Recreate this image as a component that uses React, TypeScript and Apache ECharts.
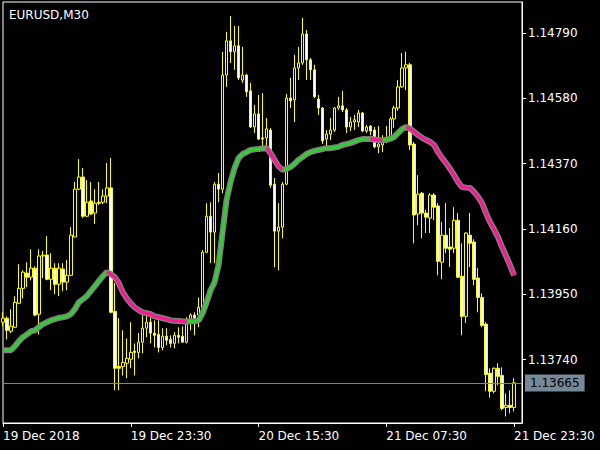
import React, { useEffect, useRef } from "react";
import * as echarts from "echarts";

const SYMBOL = "EURUSD,M30";
const LAST_PRICE = 1.13665;

const opens = [
  1.1386, 1.13873, 1.13831, 1.13844, 1.13921, 1.13969, 1.14018, 1.14005, 1.14034, 1.13886,
  1.14073, 1.14076, 1.13998, 1.14034, 1.13982, 1.14031, 1.13989, 1.14011, 1.14134, 1.14288,
  1.14327, 1.14201, 1.1425, 1.14211, 1.14246, 1.14246, 1.14266, 1.14292, 1.13895, 1.13718,
  1.13718, 1.13728, 1.13741, 1.13767, 1.13763, 1.13796, 1.13841, 1.1386, 1.13825, 1.13821,
  1.13779, 1.13815, 1.13805, 1.13792, 1.13818, 1.13815, 1.13796, 1.1386, 1.13883, 1.13883,
  1.13908, 1.14085, 1.14201, 1.1415, 1.14304, 1.14288, 1.14655, 1.14765, 1.1473, 1.14749,
  1.14639, 1.14655, 1.14604, 1.14488, 1.1453, 1.14453, 1.14453, 1.14478, 1.14304, 1.14153,
  1.14166, 1.14304, 1.14581, 1.14575, 1.14678, 1.14694, 1.14787, 1.14704, 1.14672, 1.14578,
  1.14549, 1.14449, 1.14465, 1.14478, 1.14549, 1.14556, 1.14543, 1.14488, 1.14504, 1.14504,
  1.14533, 1.14475, 1.14491, 1.14478, 1.14424, 1.1443, 1.14446, 1.14456, 1.14514, 1.14549,
  1.14617, 1.14678, 1.14688, 1.14433, 1.14208, 1.14275, 1.14211, 1.14195, 1.14269, 1.14234,
  1.14053, 1.1414, 1.14102, 1.14098, 1.14188, 1.14008, 1.13879, 1.1414, 1.14118, 1.14002,
  1.1394, 1.13854, 1.13696, 1.13638, 1.13712, 1.13689, 1.13586, 1.13593, 1.13586,
];

const closes = [
  1.13873, 1.13834, 1.13847, 1.13924, 1.13969, 1.14021, 1.14005, 1.14034, 1.13883, 1.14073,
  1.14076, 1.13998, 1.14034, 1.13982, 1.14034, 1.13989, 1.14011, 1.1414, 1.14288, 1.14327,
  1.14201, 1.14246, 1.14208, 1.14243, 1.14243, 1.14266, 1.14292, 1.13892, 1.13712, 1.13712,
  1.13731, 1.13744, 1.13763, 1.13763, 1.13796, 1.13841, 1.1386, 1.13825, 1.13818, 1.13779,
  1.13815, 1.13802, 1.13792, 1.13818, 1.13812, 1.13796, 1.13866, 1.13883, 1.13873, 1.13908,
  1.14085, 1.14201, 1.1415, 1.14304, 1.14288, 1.14655, 1.14765, 1.1473, 1.14749, 1.14646,
  1.14655, 1.14601, 1.14488, 1.1453, 1.14449, 1.14449, 1.14482, 1.14301, 1.14153, 1.14166,
  1.14304, 1.14581, 1.14572, 1.14678, 1.14694, 1.14787, 1.14704, 1.14672, 1.14585, 1.14549,
  1.14443, 1.14465, 1.14478, 1.14549, 1.14556, 1.14543, 1.14488, 1.14504, 1.14511, 1.14533,
  1.14475, 1.14488, 1.14475, 1.14424, 1.14433, 1.1444, 1.14453, 1.14514, 1.14549, 1.14617,
  1.14678, 1.14688, 1.1443, 1.14205, 1.14272, 1.14211, 1.14198, 1.14269, 1.1423, 1.14056,
  1.1414, 1.14098, 1.14095, 1.14188, 1.14005, 1.13879, 1.14147, 1.14114, 1.13998, 1.1394,
  1.1385, 1.13692, 1.13638, 1.13712, 1.13686, 1.13583, 1.13593, 1.13586, 1.13665,
];

const highs = [
  1.13892, 1.13879, 1.13902, 1.13944, 1.14047, 1.14027, 1.14053, 1.14095, 1.1404, 1.14095,
  1.14089, 1.14137, 1.14082, 1.1405, 1.1405, 1.1405, 1.1406, 1.14166, 1.14311, 1.14385,
  1.14356, 1.14317, 1.14311, 1.14288, 1.14311, 1.14288, 1.14372, 1.14388, 1.13986, 1.13873,
  1.13834, 1.13808, 1.1386, 1.13792, 1.13825, 1.13883, 1.13883, 1.13883, 1.13866, 1.13866,
  1.13841, 1.13841, 1.13818, 1.13828, 1.13844, 1.13847, 1.13876, 1.13889, 1.13892, 1.1394,
  1.14092, 1.14243, 1.14246, 1.14311, 1.1434, 1.1473, 1.14794, 1.14845, 1.14813, 1.14813,
  1.14746, 1.14659, 1.1463, 1.14559, 1.14591, 1.14597, 1.14517, 1.14485, 1.14324, 1.14243,
  1.14311, 1.14594, 1.14646, 1.1472, 1.14746, 1.14839, 1.148, 1.1471, 1.14688, 1.14591,
  1.14552, 1.14478, 1.14517, 1.14552, 1.14585, 1.14604, 1.14549, 1.1452, 1.14527, 1.14543,
  1.14536, 1.14494, 1.14494, 1.14488, 1.14491, 1.14462, 1.14491, 1.1452, 1.14556, 1.14639,
  1.14726, 1.1473, 1.14694, 1.1444, 1.14333, 1.14279, 1.14221, 1.14275, 1.14275, 1.14243,
  1.14182, 1.14243, 1.14163, 1.1423, 1.14211, 1.14114, 1.1415, 1.14211, 1.14127, 1.14034,
  1.13953, 1.1386, 1.13712, 1.13715, 1.13728, 1.13715, 1.13631, 1.13641, 1.1368,
];

const lows = [
  1.13847, 1.13805, 1.13825, 1.13841, 1.13918, 1.13937, 1.13973, 1.13995, 1.13879, 1.13821,
  1.14002, 1.13995, 1.13963, 1.1395, 1.13944, 1.1396, 1.13963, 1.14008, 1.14134, 1.14285,
  1.14195, 1.14198, 1.14205, 1.14176, 1.14237, 1.1424, 1.14243, 1.13889, 1.13641, 1.13641,
  1.13689, 1.1368, 1.13712, 1.13689, 1.13744, 1.1376, 1.13812, 1.13792, 1.13779, 1.13763,
  1.1377, 1.13786, 1.13779, 1.13776, 1.13792, 1.13796, 1.13792, 1.13834, 1.13818, 1.13844,
  1.13889, 1.14082, 1.1405, 1.1405, 1.14246, 1.14275, 1.14617, 1.14694, 1.14672, 1.14639,
  1.1463, 1.14585, 1.14485, 1.14469, 1.14446, 1.14424, 1.14424, 1.14292, 1.14037, 1.14027,
  1.1413, 1.14301, 1.14549, 1.14504, 1.14639, 1.14688, 1.14639, 1.14639, 1.14581, 1.14527,
  1.14433, 1.14424, 1.14446, 1.14472, 1.14543, 1.14536, 1.14469, 1.14475, 1.14478, 1.14488,
  1.14472, 1.14469, 1.14462, 1.1442, 1.14404, 1.14407, 1.14436, 1.14453, 1.14485, 1.1454,
  1.14614, 1.14607, 1.14414, 1.14114, 1.14172, 1.1413, 1.14147, 1.14147, 1.14188, 1.14011,
  1.13998, 1.14082, 1.14037, 1.14082, 1.14002, 1.13818, 1.13857, 1.14037, 1.13979, 1.13892,
  1.13844, 1.13638, 1.13618, 1.13631, 1.13657, 1.13577, 1.13557, 1.13567, 1.13573,
];

const maValues = [
  1.1377, 1.1377, 1.1377, 1.13783, 1.13799, 1.13812, 1.13821, 1.13831, 1.13834, 1.13844,
  1.13854, 1.1386, 1.13866, 1.1387, 1.13874, 1.13876, 1.13879, 1.13886, 1.13902, 1.13924,
  1.13934, 1.13944, 1.1396, 1.13976, 1.13992, 1.14008, 1.14021, 1.14015, 1.14005, 1.13986,
  1.13957, 1.13937, 1.13921, 1.13908, 1.13899, 1.13892, 1.13889, 1.13886, 1.13879, 1.13876,
  1.13873, 1.1387, 1.13866, 1.13865, 1.13864, 1.13863, 1.13862, 1.13863, 1.13863, 1.13866,
  1.13889, 1.13924, 1.13963, 1.13989, 1.14044, 1.1415, 1.14253, 1.14311, 1.14356, 1.14388,
  1.14401, 1.14407, 1.14414, 1.14416, 1.14417, 1.14419, 1.1442, 1.14404, 1.14382, 1.14362,
  1.1435, 1.14353, 1.14359, 1.14369, 1.14382, 1.14391, 1.14401, 1.14407, 1.14411, 1.14414,
  1.14417, 1.1442, 1.1442, 1.14422, 1.14424, 1.1443, 1.14433, 1.14436, 1.14441, 1.14446,
  1.14449, 1.14449, 1.1445, 1.14448, 1.14446, 1.14445, 1.14447, 1.1445, 1.14456, 1.14469,
  1.14482, 1.14488, 1.14482, 1.14472, 1.14462, 1.14453, 1.14446, 1.1444, 1.1443, 1.14407,
  1.14388, 1.14372, 1.14353, 1.14333, 1.14311, 1.14295, 1.14293, 1.14292, 1.14279, 1.14263,
  1.14243, 1.14211, 1.14182, 1.14159, 1.14134, 1.14102, 1.14073, 1.14044, 1.14011,
];

// index ranges (inclusive) where the average is falling (drawn pink)
const fallingRanges: number[][] = [
  [26, 46],
  [66, 70],
  [92, 95],
  [101, 128],
];

const priceTicks = [1.1374, 1.1395, 1.1416, 1.1437, 1.1458, 1.1479];
const xTickIndex = [0, 32, 64, 96, 128];
const xTickLabels = ["19 Dec 2018", "19 Dec 23:30", "20 Dec 15:30", "21 Dec 07:30", "21 Dec 23:30"];

const Y_MIN = 1.13536;
const Y_MAX = 1.1489;
const EXTRA_SLOTS = 2;

const MONTHS = ["Jan", "Feb", "Mar", "Apr", "May", "Jun", "Jul", "Aug", "Sep", "Oct", "Nov", "Dec"];
const START = Date.UTC(2018, 11, 19, 7, 30);

function buildCategories(n: number): string[] {
  const out: string[] = [];
  for (let i = 0; i < n; i++) {
    const d = new Date(START + i * 30 * 60 * 1000);
    const hh = String(d.getUTCHours()).padStart(2, "0");
    const mm = String(d.getUTCMinutes()).padStart(2, "0");
    out.push(`${d.getUTCDate()} ${MONTHS[d.getUTCMonth()]} ${hh}:${mm}`);
  }
  return out;
}

const FONT = "DejaVu Sans";

export default function App() {
  const ref = useRef<HTMLDivElement>(null);

  useEffect(() => {
    document.body.style.margin = "0";
    document.body.style.background = "#000";
    if (!ref.current) return;
    const chart = echarts.init(ref.current, null, { renderer: "svg" });

    const categories = buildCategories(opens.length + EXTRA_SLOTS);
    const candles = opens.map((o, i) => [o, closes[i], lows[i], highs[i]]);
    const inFallingOpen = (i: number) => fallingRanges.some(([a, b]) => i > a && i < b);
    const inFallingClosed = (i: number) => fallingRanges.some(([a, b]) => i >= a && i <= b);
    const greenData = maValues.map((v, i) => (inFallingOpen(i) ? null : v));
    const pinkData = maValues.map((v, i) => (inFallingClosed(i) ? v : null));

    const showIdx = (idx: number) => xTickIndex.indexOf(idx) >= 0;

    chart.setOption({
      animation: false,
      backgroundColor: "#000000",
      title: {
        text: SYMBOL,
        left: 4,
        top: 4,
        textStyle: { color: "#ffffff", fontSize: 12, fontWeight: "normal", fontFamily: FONT },
      },
      grid: {
        left: 2,
        right: 78,
        top: 2,
        bottom: 27,
        show: true,
        borderColor: "#ffffff",
        borderWidth: 1,
        backgroundColor: "transparent",
      },
      xAxis: {
        type: "category",
        data: categories,
        boundaryGap: false,
        axisLine: { show: true, lineStyle: { color: "#ffffff", width: 1 } },
        axisTick: {
          show: true,
          length: 4,
          interval: (idx: number) => showIdx(idx),
          lineStyle: { color: "#ffffff" },
        },
        axisLabel: {
          interval: (idx: number) => showIdx(idx),
          formatter: (_v: string, idx: number) => {
            const k = xTickIndex.indexOf(idx);
            return k >= 0 ? xTickLabels[k] : "";
          },
          align: "left",
          color: "#ffffff",
          fontSize: 12,
          fontFamily: FONT,
          margin: 7,
        },
        splitLine: { show: false },
      },
      yAxis: {
        type: "value",
        position: "right",
        min: Y_MIN,
        max: Y_MAX,
        scale: true,
        axisLine: { show: true, lineStyle: { color: "#ffffff", width: 1 } },
        axisTick: {
          show: true,
          length: 4,
          customValues: priceTicks,
          lineStyle: { color: "#ffffff" },
        },
        axisLabel: {
          customValues: priceTicks,
          formatter: (v: number) => v.toFixed(5),
          color: "#ffffff",
          fontSize: 12,
          fontFamily: FONT,
          margin: 6,
          padding: [6, 0, 0, 0],
        },
        splitLine: { show: false },
      },
      series: [
        {
          type: "candlestick",
          data: candles,
          barWidth: 3,
          z: 2,
          itemStyle: {
            color: "#000000",
            color0: "#ffffff",
            borderColor: "#ffff00",
            borderColor0: "#ffff00",
            borderWidth: 1,
          },
          markLine: {
            silent: true,
            precision: 5,
            symbol: ["none", "none"],
            animation: false,
            lineStyle: { color: "#778899", width: 1, type: "solid" },
            label: {
              show: true,
              position: "end",
              distance: 3,
              formatter: () => LAST_PRICE.toFixed(5),
              color: "#000000",
              backgroundColor: "#778899",
              padding: [3, 5, 2, 5],
              fontSize: 12,
              fontFamily: FONT,
            },
            data: [{ yAxis: LAST_PRICE }],
          },
        },
        {
          type: "line",
          data: maValues,
          showSymbol: false,
          symbol: "none",
          z: 3,
          lineStyle: { color: "#808080", width: 6 },
          silent: true,
        },
        {
          type: "line",
          data: greenData,
          showSymbol: false,
          symbol: "none",
          connectNulls: false,
          z: 4,
          lineStyle: { color: "#32cd32", width: 3 },
          silent: true,
        },
        {
          type: "line",
          data: pinkData,
          showSymbol: false,
          symbol: "none",
          connectNulls: false,
          z: 4,
          lineStyle: { color: "#ff1493", width: 3 },
          silent: true,
        },
      ],
    });

    return () => chart.dispose();
  }, []);

  return (
    <div
      ref={ref}
      style={{ position: "fixed", left: 0, top: 0, width: 600, height: 450, background: "#000" }}
    />
  );
}
